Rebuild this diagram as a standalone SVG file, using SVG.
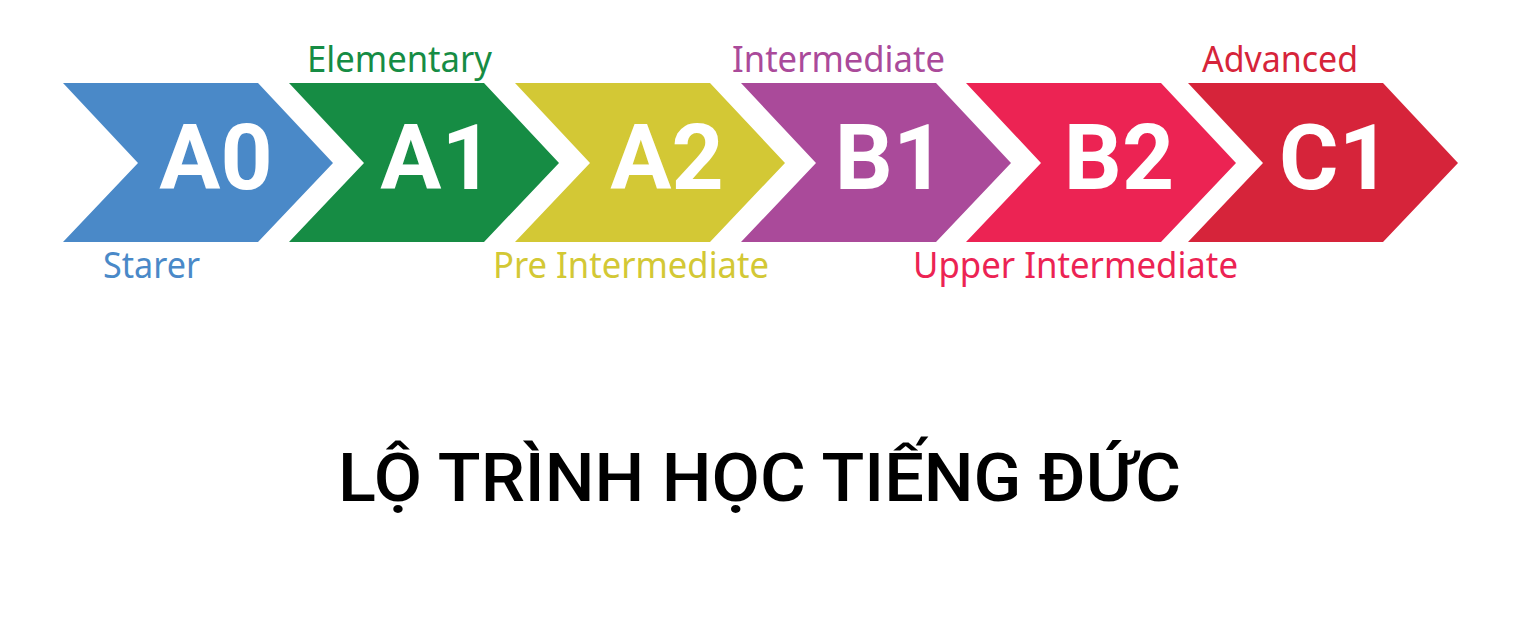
<svg xmlns="http://www.w3.org/2000/svg" width="1524" height="626" viewBox="0 0 1524 626">
<style>
.code{font-family:Roboto,"Liberation Sans",sans-serif;font-weight:700;font-size:91px;fill:#fff;text-anchor:middle}
.lbl{font-family:"Noto Sans","Open Sans","Liberation Sans",sans-serif;font-size:37px}
.title{font-family:Roboto,"Liberation Sans",sans-serif;font-weight:500;font-size:67px;fill:#000}
</style>
<defs>
<path id="chev" d="M0,0 L195,0 L270,80 L195,159 L0,159 L75,80 Z"/>
</defs>
<rect width="1524" height="626" fill="#fff"/>
<g id="connectors"/>
<g id="node-a0">
<use href="#chev" x="63" y="83" fill="#4A89C8"/>
<text class="code" x="216" y="189">A0</text>
<text class="lbl" x="103" y="278" fill="#4A89C8" textLength="97" lengthAdjust="spacingAndGlyphs">Starer</text>
</g>
<g id="node-a1">
<use href="#chev" x="289" y="83" fill="#168C44"/>
<text class="code" x="437" y="189">A1</text>
<text class="lbl" x="307" y="72" fill="#168C44" textLength="185" lengthAdjust="spacingAndGlyphs">Elementary</text>
</g>
<g id="node-a2">
<use href="#chev" x="515" y="83" fill="#D3C835"/>
<text class="code" x="667" y="189">A2</text>
<text class="lbl" x="493" y="278" fill="#D3C835" textLength="276" lengthAdjust="spacingAndGlyphs">Pre Intermediate</text>
</g>
<g id="node-b1">
<use href="#chev" x="741" y="83" fill="#AA4A9A"/>
<text class="code" x="890" y="189">B1</text>
<text class="lbl" x="732" y="72" fill="#AA4A9A" textLength="213" lengthAdjust="spacingAndGlyphs">Intermediate</text>
</g>
<g id="node-b2">
<use href="#chev" x="966" y="83" fill="#EC2353"/>
<text class="code" x="1119" y="189">B2</text>
<text class="lbl" x="913" y="278" fill="#EC2353" textLength="325" lengthAdjust="spacingAndGlyphs">Upper Intermediate</text>
</g>
<g id="node-c1">
<use href="#chev" x="1188" y="83" fill="#D6243A"/>
<text class="code" x="1335" y="189">C1</text>
<text class="lbl" x="1202" y="72" fill="#D6243A" textLength="156" lengthAdjust="spacingAndGlyphs">Advanced</text>
</g>
<g id="title">
<text class="title" x="338" y="501" textLength="843" lengthAdjust="spacingAndGlyphs">LỘ TRÌNH HỌC TIẾNG ĐỨC</text>
</g>
</svg>
